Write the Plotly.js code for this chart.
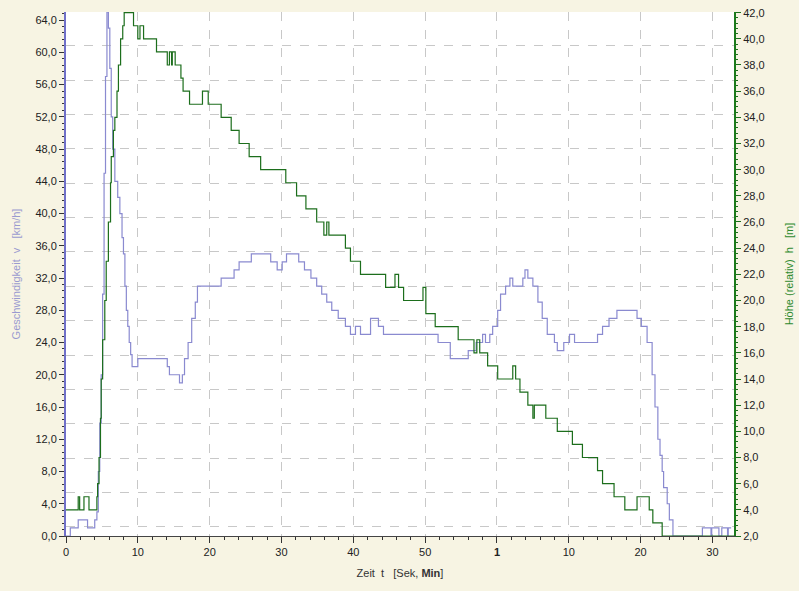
<!DOCTYPE html>
<html>
<head>
<meta charset="utf-8">
<script src="https://cdn.plot.ly/plotly-3.0.1.min.js"></script>
<style>html,body{margin:0;padding:0;background:#f7f4e3;}</style>
</head>
<body>
<div id="chart" style="width:799px;height:591px;"></div>
<script>
// Time axis tick labels (seconds, then minutes mark "1")
const timeTickVals = [0, 10, 20, 30, 40, 50, 60, 70, 80, 90];
const timeTickText = ['0', '10', '20', '30', '40', '50', '<b>1</b>', '10', '20', '30'];

// Speed v [km/h] (step samples)
const speedT = [0, 0.6, 1.7, 3.0, 4.0, 4.3, 4.5, 4.7, 4.9, 5.1, 5.3, 5.5, 5.7, 5.9, 6.1, 6.3, 6.5, 6.8, 7.2, 7.5, 7.8, 8.0, 8.2, 8.4, 8.6, 8.8, 9.0, 9.2, 10.0,
  14.1, 14.4, 15.8, 16.2, 16.5, 17.0, 17.5, 18.0, 18.3, 21.6, 23.4, 24.1, 25.8, 27.6, 28.5, 29.4, 30.1, 30.7, 31.9, 32.4, 33.2, 34.1, 34.9, 35.6, 36.3, 37.0, 37.9, 38.9, 39.6, 40.3, 41.0, 42.4, 43.5, 44.2,
  51.8, 53.5, 56.0, 56.2, 57.1, 58.0, 58.4, 59.0, 59.4, 60.1, 60.5, 61.2, 61.8, 62.2, 63.6, 63.9, 64.3, 65.0, 65.7, 66.3, 67.0, 68.0, 68.4, 69.3, 70.1, 70.8, 71.5, 74.0, 74.7, 75.6, 76.7,
  79.5, 80.1, 80.9, 81.6, 82.0, 82.4, 82.7, 83.0, 83.2, 83.7, 84.0, 84.5, 85.0, 88.6, 89.8, 89.9, 90.9, 91.3, 92.1, 92.2, 92.6, 93.0];
const speedV = [0, 1, 2, 1, 2, 3, 8, 14, 20, 30, 45, 57, 65, 63, 58, 52, 48, 44, 42, 40, 37, 35, 31, 28, 26, 24, 22.5, 21, 22,
  21, 20, 19, 20, 22, 24, 27, 29, 31, 32, 33, 34, 35, 35, 34, 33, 34, 35, 35, 34, 33, 32, 31, 30, 29, 28, 27, 26, 25, 26, 25, 27, 26, 25,
  24, 22, 23, 23, 24, 25, 24, 25, 26, 28, 30, 31, 32, 31, 32, 33, 32, 31, 29, 27, 25, 24, 23, 24, 25, 24, 24, 25, 26, 27, 28,
  27, 26, 24, 20, 16, 12, 10, 8, 6, 4, 2, 0, 0, 1, 0, 1, 0, 1, 0, 1, 1];

// Height h (relative) [m]
const heightT = [0, 1.7, 1.9, 2.5, 3.2, 4.3, 4.4, 4.6, 4.8, 4.9, 5.1, 5.4, 5.6, 5.9, 6.2, 6.3, 6.6, 6.8, 7.1, 7.3, 7.6, 7.9, 8.1,
  9.4, 10.0, 10.3, 10.8, 12.6, 14.1, 14.4, 14.7, 14.8, 15.2, 16.0, 16.3, 17.2, 19.0, 19.8, 21.6, 23.0, 24.1, 25.5, 27.1, 30.6, 32.1, 33.4, 34.9, 35.9, 36.3, 36.6, 38.9, 39.6, 41.0,
  44.5, 45.8, 46.3, 47.0, 49.7, 50.1, 51.4, 54.6, 56.8, 57.2, 57.6, 58.7, 60.1, 62.2, 62.6, 63.2, 64.3, 65.0, 65.2, 66.8, 68.4, 70.5, 71.9, 74.0, 74.7, 76.3, 77.8, 79.5, 81.2, 81.7, 83.0, 93.0];
const heightV = [4, 5, 4, 5, 4, 5, 6, 8, 11, 14, 17, 20, 23, 26, 29, 31, 33, 34, 36, 38, 40, 41, 42,
  41, 40, 41, 40, 39, 38, 39, 38, 39, 38, 37, 36, 35, 36, 35, 34, 33, 32, 31, 30, 29, 28, 27, 26, 25, 26, 25, 24, 23, 22,
  21, 22, 21, 20, 21, 19, 18, 17, 16, 17, 16, 15, 14, 15, 14, 13, 12, 11, 12, 11, 10, 9, 8, 7, 6, 5, 4, 5, 4, 3, 2, 2];
</script>
<script>
const font = {family: 'Liberation Sans, Arial, sans-serif', size: 11, color: '#222'};
const traces = [
  {x: speedT, y: speedV, type: 'scatter', mode: 'lines', line: {shape: 'hv', color: '#8a8ad0', width: 1.2}, yaxis: 'y', hoverinfo: 'skip'},
  {x: heightT, y: heightV, type: 'scatter', mode: 'lines', line: {shape: 'hv', color: '#1c6e1c', width: 1.2}, yaxis: 'y2', hoverinfo: 'skip'}
];
const layout = {
  width: 799, height: 591,
  margin: {l: 66, r: 65, t: 12, b: 55},
  paper_bgcolor: '#f7f4e3', plot_bgcolor: '#ffffff',
  separators: ',.',
  font: font,
  showlegend: false,
  xaxis: {
    range: [0, 93], tickmode: 'array', tickvals: timeTickVals, ticktext: timeTickText,
    ticks: 'outside', ticklen: 6, tickcolor: '#333', showline: true, linecolor: '#444', linewidth: 1,
    showgrid: true, gridcolor: '#c8c8c8', griddash: 'dash', gridwidth: 1, zeroline: false,
    minor: {dtick: 2, ticks: 'outside', ticklen: 3, tickcolor: '#333', showgrid: false},
    title: {text: 'Zeit  t   [Sek, <b>Min</b>]', font: {size: 11, color: '#333'}, standoff: 12}
  },
  yaxis: {
    range: [0, 65], dtick: 4, tick0: 0, tickformat: '.1f', ticks: 'outside', ticklen: 5, tickcolor: '#333',
    showline: true, linecolor: '#7070c8', linewidth: 2, showgrid: false, zeroline: false,
    minor: {dtick: 0.8, ticks: 'outside', ticklen: 2, tickcolor: '#333'},
    title: {text: 'Geschwindigkeit  v   [km/h]', font: {size: 11, color: '#9a9ad0'}, standoff: 13}
  },
  yaxis2: {
    range: [2, 42.05], dtick: 2, tick0: 2, tickformat: '.1f', overlaying: 'y', side: 'right',
    ticks: 'outside', ticklen: 5, tickcolor: '#1c6e1c', showline: true, linecolor: '#1c7a1c', linewidth: 2,
    showgrid: false, zeroline: false,
    minor: {dtick: 0.4, ticks: 'outside', ticklen: 2, tickcolor: '#1c6e1c'},
    title: {text: 'Höhe (relativ)  h   [m]', font: {size: 11, color: '#2e8a2e'}, standoff: 22}
  },
  yaxis3: {
    range: [-0.262, 14.98], dtick: 1, tick0: 0, overlaying: 'y', showticklabels: false, ticks: '',
    showline: false, zeroline: false, showgrid: true, gridcolor: '#c8c8c8', griddash: 'dash', gridwidth: 1
  }
};
traces.push({x: [0], y: [0], yaxis: 'y3', mode: 'markers', marker: {opacity: 0}, hoverinfo: 'skip'});
Plotly.newPlot('chart', traces, layout, {displayModeBar: false, staticPlot: true});
</script>
</body>
</html>
